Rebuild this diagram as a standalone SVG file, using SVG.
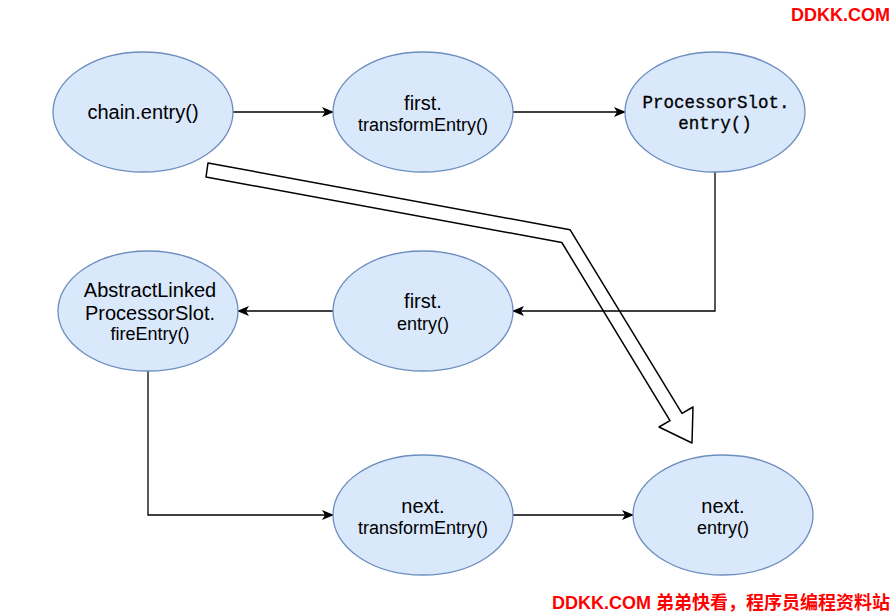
<svg xmlns="http://www.w3.org/2000/svg" width="895" height="613" viewBox="0 0 895 613">
<style>
.node ellipse{fill:#dae8fc;stroke:#6c8ebf;stroke-width:1.3}
.t{font-family:"Liberation Sans",Arial,sans-serif;fill:#000;text-anchor:middle}
.big{font-size:20px}
.sm{font-size:18px}
.mono{font-family:"Liberation Mono","Courier New",monospace;font-size:17.5px;fill:#000;text-anchor:middle;stroke:#000;stroke-width:0.3}
.edge{fill:none;stroke:#000;stroke-width:1.3}
.wm{font-family:"Liberation Sans","Noto Sans CJK SC",sans-serif;font-weight:bold;font-size:18px;fill:#f00}
</style>
<defs>
<marker id="ah" viewBox="0 0 12 10" refX="11" refY="5" markerWidth="12" markerHeight="10" markerUnits="userSpaceOnUse" orient="auto">
<path d="M0,0 L12,5 L0,10 L3,5 Z" fill="#000"/>
</marker>
</defs>
<rect width="895" height="613" fill="#fff"/>
<g id="bigArrow">
<path d="M208,163 L570,229.7 L682,413.4 L693,407 L692,443 L659,427 L670,420.6 L561.8,242.5 L206,177 Z" fill="#fff" stroke="#000" stroke-width="1.5" stroke-linejoin="round"/>
</g>
<g id="connectors">
<path class="edge" d="M233,112 L333,112" marker-end="url(#ah)"/>
<path class="edge" d="M513,112 L625,112" marker-end="url(#ah)"/>
<path class="edge" d="M715,172 L715,311 L513,311" marker-end="url(#ah)"/>
<path class="edge" d="M333,311 L238,311" marker-end="url(#ah)"/>
<path class="edge" d="M148,371 L148,515 L333,515" marker-end="url(#ah)"/>
<path class="edge" d="M513,515 L633,515" marker-end="url(#ah)"/>
</g>
<g id="n1" class="node">
<ellipse cx="143" cy="112" rx="90" ry="60"/>
<text class="t big" x="143" y="119">chain.entry()</text>
</g>
<g id="n2" class="node">
<ellipse cx="423" cy="112" rx="90" ry="60"/>
<text class="t big" x="423" y="110">first.</text>
<text class="t sm" x="423" y="131">transformEntry()</text>
</g>
<g id="n3" class="node">
<ellipse cx="715" cy="112" rx="90" ry="60"/>
<text class="mono" x="716" y="108">ProcessorSlot.</text>
<text class="mono" x="715" y="129">entry()</text>
</g>
<g id="n4" class="node">
<ellipse cx="423" cy="311" rx="90" ry="60"/>
<text class="t big" x="423" y="308">first.</text>
<text class="t sm" x="423" y="330">entry()</text>
</g>
<g id="n5" class="node">
<ellipse cx="148" cy="311" rx="90" ry="60"/>
<text class="t big" x="150" y="297">AbstractLinked</text>
<text class="t big" x="150" y="320">ProcessorSlot.</text>
<text class="t sm" x="150" y="340">fireEntry()</text>
</g>
<g id="n6" class="node">
<ellipse cx="423" cy="515" rx="90" ry="60"/>
<text class="t big" x="423" y="513">next.</text>
<text class="t sm" x="423" y="534">transformEntry()</text>
</g>
<g id="n7" class="node">
<ellipse cx="723" cy="515" rx="90" ry="60"/>
<text class="t big" x="723" y="513">next.</text>
<text class="t sm" x="723" y="534">entry()</text>
</g>
<text class="wm" x="890" y="21" text-anchor="end">DDKK.COM</text>
<text class="wm" x="890" y="609" text-anchor="end">DDKK.COM 弟弟快看，程序员编程资料站</text>
</svg>
